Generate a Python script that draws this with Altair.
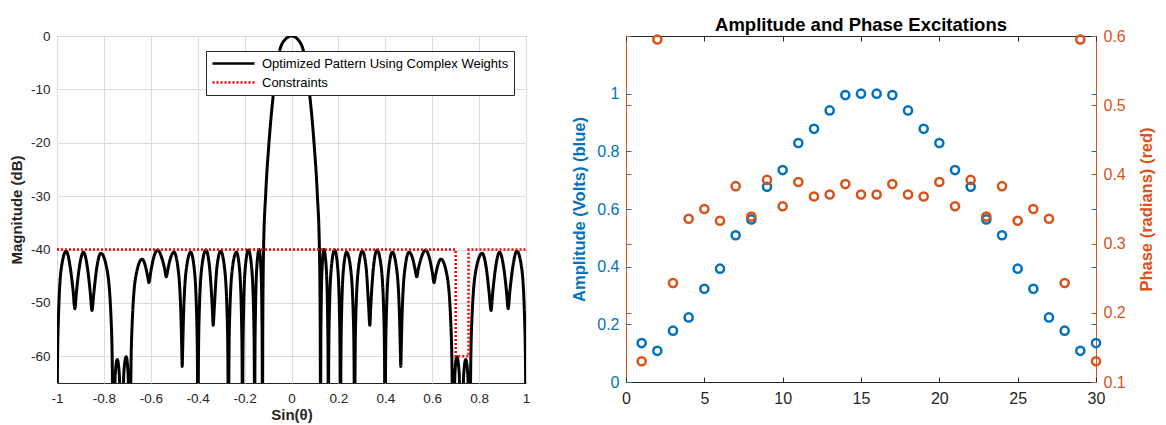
import altair as alt
import pandas as pd

# ---------------- left panel data ----------------
pattern_u = [
    -1.000, -0.998, -0.994, -0.981, -0.961, -0.943, -0.931, -0.924, -0.917, -0.906,
    -0.887, -0.869, -0.858, -0.851, -0.843, -0.832, -0.813, -0.787, -0.769, -0.764,
    -0.761, -0.752, -0.743, -0.734, -0.725, -0.715, -0.705, -0.697, -0.688, -0.685,
    -0.680, -0.663, -0.637, -0.623, -0.614, -0.608, -0.601, -0.590, -0.571, -0.553,
    -0.541, -0.534, -0.527, -0.518, -0.501, -0.484, -0.471, -0.468, -0.466, -0.464,
    -0.461, -0.448, -0.430, -0.415, -0.404, -0.401, -0.399, -0.397, -0.394, -0.382,
    -0.365, -0.350, -0.338, -0.334, -0.329, -0.318, -0.302, -0.286, -0.274, -0.271,
    -0.269, -0.267, -0.264, -0.252, -0.235, -0.222, -0.213, -0.2105, -0.209, -0.2075,
    -0.205, -0.1965, -0.184, -0.1705, -0.161, -0.1585, -0.157, -0.156, -0.154, -0.1475,
    -0.138, -0.131, -0.126, -0.1248, -0.124, -0.1225, -0.119, -0.110, -0.096, -0.074,
    -0.054, -0.032, 0.000,
    0.032, 0.054, 0.074, 0.096, 0.110, 0.119, 0.1225, 0.124, 0.1248, 0.126,
    0.131, 0.138, 0.1475, 0.154, 0.156, 0.157, 0.1585, 0.161, 0.1705, 0.184,
    0.1965, 0.205, 0.2075, 0.209, 0.2105, 0.213, 0.222, 0.235, 0.252, 0.264,
    0.267, 0.269, 0.271, 0.274, 0.286, 0.302, 0.318, 0.329, 0.334, 0.338,
    0.350, 0.365, 0.382, 0.394, 0.397, 0.399, 0.401, 0.404, 0.415, 0.430,
    0.448, 0.461, 0.464, 0.466, 0.468, 0.471, 0.484, 0.501, 0.518, 0.527,
    0.534, 0.541, 0.553, 0.571, 0.590, 0.601, 0.608, 0.614, 0.623, 0.637,
    0.663, 0.680, 0.685, 0.688, 0.697, 0.705, 0.715, 0.725, 0.734, 0.743,
    0.752, 0.761, 0.764, 0.769, 0.787, 0.813, 0.832, 0.843, 0.851, 0.858,
    0.869, 0.887, 0.906, 0.917, 0.924, 0.931, 0.943, 0.961, 0.981, 0.994,
    0.998, 1.000,
]
pattern_db = [
    -90.0, -62.0, -53.0, -43.3, -40.3, -43.5, -47.9, -51.1, -47.9, -43.7,
    -40.5, -43.8, -48.1, -51.4, -48.2, -43.9, -40.7, -43.7, -53.4, -62.7,
    -90.0, -63.6, -60.6, -63.6, -90.0, -63.1, -60.1, -63.1, -90.0, -63.8,
    -54.5, -44.8, -41.8, -43.1, -44.9, -46.2, -44.4, -41.9, -40.1, -41.6,
    -43.6, -45.1, -43.7, -41.9, -40.5, -43.5, -53.2, -58.5, -61.9, -58.5,
    -53.2, -43.5, -40.5, -43.5, -53.2, -62.5, -90.0, -62.1, -52.8, -43.1,
    -40.1, -43.1, -50.7, -54.2, -50.7, -43.3, -40.3, -43.3, -53.0, -62.3,
    -90.0, -62.5, -53.2, -43.5, -40.5, -43.5, -53.2, -62.5, -90.0, -62.1,
    -52.8, -43.1, -40.1, -43.1, -52.8, -62.1, -90.0, -62.0, -52.7, -43.0,
    -40.0, -43.0, -52.7, -62.0, -90.0, -55.0, -39.7, -29.6, -20.0, -9.6,
    -3.4, -0.9, 0.0,
    -0.9, -3.4, -9.6, -20.0, -29.6, -39.7, -55.0, -90.0, -62.0, -52.7,
    -43.0, -40.0, -43.0, -52.7, -62.0, -90.0, -62.1, -52.8, -43.1, -40.1,
    -43.1, -52.8, -62.1, -90.0, -62.5, -53.2, -43.5, -40.5, -43.5, -53.2,
    -62.5, -90.0, -62.3, -53.0, -43.3, -40.3, -43.3, -50.7, -54.2, -50.7,
    -43.1, -40.1, -43.1, -52.8, -62.1, -90.0, -62.5, -53.2, -43.5, -40.5,
    -43.5, -53.2, -58.5, -61.9, -58.5, -53.2, -43.5, -40.5, -41.9, -43.7,
    -45.1, -43.6, -41.6, -40.1, -41.9, -44.4, -46.2, -44.9, -43.1, -41.8,
    -44.8, -54.5, -63.8, -90.0, -63.1, -60.1, -63.1, -90.0, -63.6, -60.6,
    -63.6, -90.0, -62.7, -53.4, -43.7, -40.7, -43.9, -48.2, -51.4, -48.1,
    -43.8, -40.5, -43.7, -47.9, -51.1, -47.9, -43.5, -40.3, -43.3, -53.0,
    -62.0, -90.0,
]
constraint_u = [-1.0, 0.70, 0.70, 0.755, 0.755, 1.0]
constraint_db = [-40, -40, -60, -60, -40, -40]
series_names = ["Optimized Pattern Using Complex Weights", "Constraints"]
sin_ticks = [-1, -0.8, -0.6, -0.4, -0.2, 0, 0.2, 0.4, 0.6, 0.8, 1]
db_ticks = [0, -10, -20, -30, -40, -50, -60]

# ---------------- right panel data ----------------
elements = list(range(1, 31))
amplitude = [0.135, 0.108, 0.178, 0.224, 0.323, 0.393, 0.509, 0.564, 0.677, 0.735,
             0.829, 0.878, 0.942, 0.995, 1.000, 1.000, 0.995, 0.942, 0.878, 0.829,
             0.735, 0.677, 0.564, 0.509, 0.393, 0.323, 0.224, 0.178, 0.108, 0.135]
phase = [0.130, 0.595, 0.243, 0.336, 0.350, 0.333, 0.383, 0.339, 0.392, 0.354,
         0.389, 0.368, 0.371, 0.386, 0.371, 0.371, 0.386, 0.371, 0.368, 0.389,
         0.354, 0.392, 0.339, 0.383, 0.333, 0.350, 0.336, 0.243, 0.595, 0.130]
element_ticks = [0, 5, 10, 15, 20, 25, 30]
amp_ticks = [0, 0.2, 0.4, 0.6, 0.8, 1]
phase_ticks = [0.1, 0.2, 0.3, 0.4, 0.5, 0.6]

FONT = "Liberation Sans"
DARK = "#262626"
GRID = "#dcdcdc"
BLUE = "#0072BD"
ORANGE = "#D95319"

# ================= left panel =================
pat_df = pd.DataFrame({"u": pattern_u, "db": pattern_db, "series": series_names[0]})
con_df = pd.DataFrame({"u": constraint_u, "db": constraint_db,
                       "series": series_names[1], "idx": list(range(len(constraint_u)))})

neg_label = "(datum.value < 0 ? '-' : '') + format(abs(datum.value), '~g')"
x_scale_l = alt.Scale(domain=[-1, 1], nice=False, zero=False)
y_scale_l = alt.Scale(domain=[-65, 0], nice=False, zero=False)

x_axis_l = alt.Axis(values=sin_ticks, labelExpr=neg_label, title="Sin(θ)", grid=True,
                    gridColor=GRID, gridWidth=1, ticks=False, domain=False,
                    labelFont=FONT, labelFontSize=13.5, labelColor=DARK, labelPadding=8,
                    labelFlush=False, labelOverlap=False,
                    titleFont=FONT, titleFontSize=15, titleFontWeight="bold",
                    titleColor=DARK, titlePadding=3)
y_axis_l = alt.Axis(values=db_ticks, labelExpr=neg_label, title="Magnitude (dB)", grid=True,
                    gridColor=GRID, gridWidth=1, ticks=False, domain=False,
                    labelFont=FONT, labelFontSize=13.5, labelColor=DARK, labelPadding=7,
                    labelFlush=False, labelOverlap=False,
                    titleFont=FONT, titleFontSize=15, titleFontWeight="bold",
                    titleColor=DARK, titlePadding=6)

# legend sample: a flat path (42 px long at size 144), label placed after it
legend = alt.Legend(title=None, orient="none", legendX=149, legendY=15, direction="vertical",
                    fillColor="white", strokeColor=DARK, padding=5,
                    labelFont=FONT, labelFontSize=13, labelColor="black",
                    symbolType="M-1,0H6", symbolSize=144, symbolStrokeWidth=2.5,
                    labelOffset=36, rowPadding=4, labelLimit=400, cornerRadius=0)
color_enc = alt.Color("series:N", scale=alt.Scale(domain=series_names, range=["#000000", "#ff0000"]),
                      legend=legend)
dash_enc = alt.StrokeDash("series:N", scale=alt.Scale(domain=series_names, range=[[1, 0], [2, 2]]))

pattern = alt.Chart(pat_df).mark_line(clip=True, interpolate="monotone", strokeWidth=3,
                                      strokeJoin="round").encode(
    x=alt.X("u:Q", scale=x_scale_l, axis=x_axis_l),
    y=alt.Y("db:Q", scale=y_scale_l, axis=y_axis_l),
    color=color_enc,
    strokeDash=dash_enc,
)
constraint = alt.Chart(con_df).mark_line(clip=True, strokeWidth=2.5, strokeCap="butt").encode(
    x=alt.X("u:Q", scale=x_scale_l, axis=x_axis_l),
    y=alt.Y("db:Q", scale=y_scale_l, axis=y_axis_l),
    color=color_enc,
    strokeDash=dash_enc,
    order=alt.Order("idx:Q"),
)
left = alt.layer(pattern, constraint).properties(
    width=469, height=347,
    view=alt.ViewBackground(stroke=DARK, strokeWidth=1),
)

# ================= right panel =================
ex_df = pd.DataFrame({"element": elements, "amplitude": amplitude, "phase": phase})
x_scale_r = alt.Scale(domain=[0, 30], nice=False, zero=False)
amp_scale = alt.Scale(domain=[0, 1.2], nice=False, zero=False)
ph_scale = alt.Scale(domain=[0.1, 0.6], nice=False, zero=False)

amp_pts = alt.Chart(ex_df).mark_point(shape="circle", filled=False, size=66, strokeWidth=2.5,
                                      color=BLUE, opacity=1).encode(
    x=alt.X("element:Q", scale=x_scale_r,
            axis=alt.Axis(orient="bottom", values=element_ticks, offset=-5, tickSize=5,
                          tickColor=DARK, tickWidth=1, domain=False, grid=False,
                          labelFont=FONT, labelFontSize=16, labelColor=DARK, labelPadding=8,
                          labelFlush=False, labelOverlap=False, title=None, minExtent=0)),
    y=alt.Y("amplitude:Q", scale=amp_scale,
            axis=alt.Axis(orient="left", values=amp_ticks, format="~g", offset=-5, tickSize=5,
                          tickColor=BLUE, tickWidth=1, domain=False, grid=False,
                          labelFont=FONT, labelFontSize=16, labelColor=BLUE, labelPadding=7,
                          labelFlush=False, labelOverlap=False,
                          title="Amplitude (Volts) (blue)", titleFont=FONT, titleFontSize=16.5,
                          titleFontWeight="bold", titleColor=BLUE, titlePadding=9, minExtent=0)),
)
amp_ghost = alt.Chart(ex_df).mark_point(opacity=0).encode(
    x=alt.X("element:Q", scale=x_scale_r,
            axis=alt.Axis(orient="bottom", domain=True, domainColor=DARK, domainWidth=1,
                          ticks=False, labels=False, grid=False, title=None,
                          minExtent=0, maxExtent=0)),
    y=alt.Y("amplitude:Q", scale=amp_scale,
            axis=alt.Axis(orient="right", values=amp_ticks, offset=-5, tickSize=5,
                          tickColor=BLUE, tickWidth=1, domain=False, labels=False,
                          grid=False, title=None, minExtent=0, maxExtent=0)),
)
ph_pts = alt.Chart(ex_df).mark_point(shape="circle", filled=False, size=66, strokeWidth=2.5,
                                     color=ORANGE, opacity=1).encode(
    x=alt.X("element:Q", scale=x_scale_r,
            axis=alt.Axis(orient="top", values=element_ticks, offset=-5, tickSize=5,
                          tickColor=DARK, tickWidth=1, domain=False, labels=False,
                          grid=False, title=None, minExtent=0, maxExtent=0)),
    y=alt.Y("phase:Q", scale=ph_scale,
            axis=alt.Axis(orient="right", values=phase_ticks, format="~g", offset=-5, tickSize=5,
                          tickColor=ORANGE, tickWidth=1, domain=False, grid=False,
                          labelFont=FONT, labelFontSize=16, labelColor=ORANGE, labelPadding=7,
                          labelFlush=False, labelOverlap=False,
                          title="Phase (radians) (red)", titleFont=FONT, titleFontSize=16.5,
                          titleFontWeight="bold", titleColor=ORANGE, titlePadding=13,
                          titleAngle=270, titleBaseline="top", minExtent=0)),
)
ph_ghost = alt.Chart(ex_df).mark_point(opacity=0).encode(
    x=alt.X("element:Q", scale=x_scale_r,
            axis=alt.Axis(orient="top", domain=True, domainColor=DARK, domainWidth=1,
                          ticks=False, labels=False, grid=False, title=None,
                          minExtent=0, maxExtent=0)),
    y=alt.Y("phase:Q", scale=ph_scale,
            axis=alt.Axis(orient="left", values=phase_ticks, offset=-5, tickSize=5,
                          tickColor=ORANGE, tickWidth=1, domain=False, labels=False,
                          grid=False, title=None, minExtent=0, maxExtent=0)),
)

right = alt.layer(amp_ghost, ph_ghost, amp_pts, ph_pts).resolve_scale(
    y="independent"
).resolve_axis(
    x="independent", y="independent"
).properties(
    width=470, height=346,
    title=alt.Title("Amplitude and Phase Excitations", font=FONT, fontSize=18.5,
                    fontWeight="bold", color="black", anchor="middle",
                    baseline="alphabetic", offset=-21.5),
    view=alt.ViewBackground(stroke=ORANGE, strokeWidth=1),
)

chart = alt.hconcat(left, right, spacing=100).properties(
    bounds="flush",
    padding={"left": 0, "top": 7, "right": 0, "bottom": 0},
).configure(font=FONT)

chart.save("out.html", embed_options={"renderer": "svg", "actions": False})
